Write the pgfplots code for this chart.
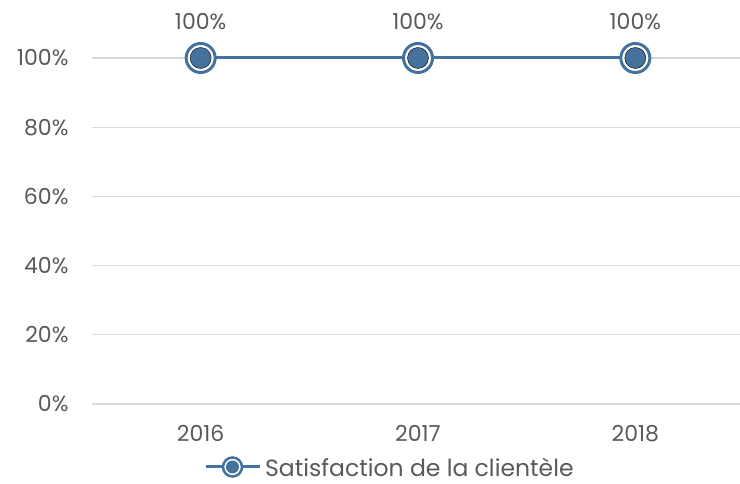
\documentclass[border=0pt]{standalone}
\usepackage{fontspec}
\setmainfont{Poppins}
\usepackage{pgfplots}
\pgfplotsset{compat=1.18}
\definecolor{serblue}{HTML}{44729D}
\definecolor{txtgray}{HTML}{595959}
\definecolor{gridgray}{HTML}{D9D9D9}
\newcommand{\lblfont}{\fontsize{22}{25}\selectfont}
\begin{document}
\begin{tikzpicture}
\useasboundingbox (0pt,0pt) rectangle (740pt,484pt);
\begin{axis}[
  at={(92pt,80pt)}, anchor=south west,
  scale only axis, width=652pt, height=346pt,
  xmin=-0.5, xmax=2.5, ymin=0, ymax=100,
  xtick={0,1,2}, xticklabels={2016,2017,2018},
  ytick={0,20,40,60,80,100},
  yticklabel={\pgfmathprintnumber{\tick}\%},
  /pgf/number format/assume math mode=true,
  axis line style={draw=none},
  major tick length=0pt,
  ymajorgrids, grid style={gridgray, line width=1.2pt},
  tick label style={font=\lblfont, text=txtgray},
  xticklabel style={yshift=-18pt},
  yticklabel style={xshift=-20pt},
  clip=false,
]
\addplot[serblue, line width=3pt, mark=*, mark size=14.5pt,
  mark options={fill=white, draw=serblue, line width=3pt},
  nodes near coords={\pgfmathprintnumber{\pgfplotspointmeta}\%},
  nodes near coords style={font=\lblfont, text=txtgray, anchor=south, yshift=23pt},
] coordinates {(0,100) (1,100) (2,100)};
\addplot[draw=none, mark=*, mark size=10.5pt, mark options={fill=serblue, draw=none}]
  coordinates {(0,100) (1,100) (2,100)};
\end{axis}
% legend
\draw[serblue, line width=3pt] (206pt,17pt) -- (260pt,17pt);
\filldraw[fill=white, draw=serblue, line width=2.5pt] (232.5pt,17pt) circle (9.5pt);
\fill[serblue] (232.5pt,17pt) circle (6.5pt);
\node[anchor=west, text=txtgray, font=\fontsize{23.5}{26}\selectfont, inner sep=0pt] at (265pt,17pt) {Satisfaction de la clientèle};
\end{tikzpicture}
\end{document}
